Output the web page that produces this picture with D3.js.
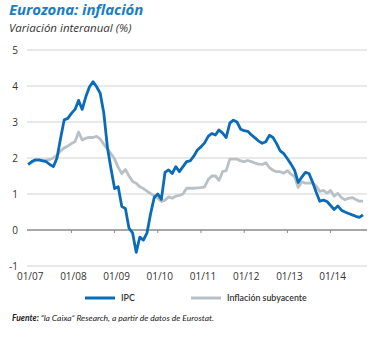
<!DOCTYPE html>
<html><head><meta charset="utf-8">
<script src="https://cdn.jsdelivr.net/npm/d3@7"></script>
<style>
html,body{margin:0;padding:0;background:#fff;}
svg{display:block;}
</style></head>
<body>
<script>
// Monthly data, Jan 2007 – Oct 2014
const startYear = 2007;
const ipc = [
 1.82,1.9,1.95,1.95,1.92,1.9,1.82,1.76,2.0,2.55,3.06,3.1,
 3.24,3.35,3.6,3.35,3.7,3.97,4.12,3.98,3.8,3.25,2.3,1.7,
 1.15,1.2,0.65,0.6,0.05,-0.08,-0.62,-0.2,-0.28,-0.08,0.45,0.9,
 1.0,0.85,1.6,1.67,1.57,1.76,1.62,1.76,1.9,1.92,2.05,2.22,
 2.31,2.42,2.6,2.68,2.64,2.78,2.69,2.57,2.97,3.05,3.0,2.8,
 2.76,2.74,2.64,2.56,2.47,2.41,2.45,2.63,2.57,2.4,2.2,2.12,
 1.98,1.83,1.66,1.32,1.47,1.6,1.57,1.33,1.05,0.8,0.83,0.79,
 0.68,0.57,0.67,0.55,0.5,0.46,0.42,0.38,0.35,0.42
];
const subyacente = [
 1.82,1.88,1.93,1.94,1.94,1.94,1.96,2.0,2.08,2.2,2.28,2.33,
 2.4,2.45,2.72,2.5,2.55,2.57,2.57,2.6,2.53,2.38,2.25,2.12,
 1.97,1.74,1.57,1.68,1.5,1.35,1.3,1.2,1.15,1.08,1.01,0.95,
 0.88,0.79,0.83,0.92,0.88,0.94,0.96,1.0,1.16,1.16,1.16,1.17,
 1.18,1.2,1.4,1.5,1.5,1.38,1.62,1.65,1.97,1.97,1.97,1.92,
 1.9,1.93,1.9,1.86,1.83,1.82,1.87,1.73,1.66,1.62,1.62,1.58,
 1.65,1.55,1.48,1.18,1.34,1.3,1.3,1.3,1.22,1.07,1.1,1.02,
 1.1,0.94,1.02,0.9,0.84,0.88,0.9,0.85,0.8,0.8
];
const yTicks = [-1,0,1,2,3,4,5];
const xTickLabels = ["01/07","01/08","01/09","01/10","01/11","01/12","01/13","01/14"];
const seriesNames = ["IPC","Inflación subyacente"];
const colors = ["#0a6cb8","#b9c1c7"];

const W = 377, H = 338;
const svg = d3.select("body").append("svg").attr("width",W).attr("height",H)
  .style("font-family","'Open Sans','Noto Sans',sans-serif");

const x = d3.scaleLinear().domain([0, 93]).range([28.2, 28.2 + 93*3.6]);
const y = d3.scaleLinear().domain([-1, 5]).range([266, 50]);
const gridX0 = 27, gridX1 = 367;

// Title
svg.append("text").attr("x",9).attr("y",15)
  .attr("fill","#1a7dc4").attr("font-size",15).attr("font-weight","bold").attr("font-style","italic")
  .attr("letter-spacing","-0.1")
  .text("Eurozona: inflación");
svg.append("text").attr("x",9).attr("y",32)
  .attr("fill","#333").attr("font-size",11.5).attr("font-style","italic")
  .text("Variación interanual (%)");

// Grid lines
svg.append("g").selectAll("line").data(yTicks.filter(d=>d!==0)).join("line")
  .attr("x1",gridX0).attr("x2",gridX1)
  .attr("y1",d=>y(d)).attr("y2",d=>y(d))
  .attr("stroke","#d3d3d3").attr("stroke-width",1);

// Y labels
svg.append("g").selectAll("text").data(yTicks).join("text")
  .attr("x",18).attr("y",d=>y(d)).attr("dy","0.35em")
  .attr("text-anchor","end").attr("font-size",10).attr("fill","#333")
  .text(d=>d);

// Zero line with ticks
svg.append("line").attr("x1",gridX0).attr("x2",gridX1)
  .attr("y1",y(0)).attr("y2",y(0)).attr("stroke","#8a8a8a").attr("stroke-width",1.3);
const xTickIdx = xTickLabels.map((d,i)=>i*12);
svg.append("g").selectAll("line").data(xTickIdx.slice(1)).join("line")
  .attr("x1",d=>x(d)).attr("x2",d=>x(d))
  .attr("y1",y(0)).attr("y2",y(0)+3)
  .attr("stroke","#8a8a8a").attr("stroke-width",1);

// X labels
svg.append("g").selectAll("text").data(xTickLabels).join("text")
  .attr("x",(d,i)=>x(i*12)+2).attr("y",280)
  .attr("text-anchor","middle").attr("font-size",10).attr("fill","#333")
  .text(d=>d);

// Lines
const line = d3.line().x((d,i)=>x(i)).y(d=>y(d)).curve(d3.curveLinear);
svg.append("path").datum(subyacente).attr("d",line)
  .attr("fill","none").attr("stroke",colors[1]).attr("stroke-width",2.8)
  .attr("stroke-linejoin","round");
svg.append("path").datum(ipc).attr("d",line)
  .attr("fill","none").attr("stroke",colors[0]).attr("stroke-width",2.8)
  .attr("stroke-linejoin","round");

// Legend
const legX = [85, 191];
const lg = svg.append("g").selectAll("g").data(seriesNames).join("g")
  .attr("transform",(d,i)=>`translate(${legX[i]},298)`);
lg.append("line").attr("x1",0).attr("x2",30).attr("y1",0).attr("y2",0)
  .attr("stroke",(d,i)=>colors[i]).attr("stroke-width",3);
lg.append("text").attr("x",36).attr("y",0).attr("dy","0.35em")
  .style("font-family","Lato, sans-serif")
  .attr("font-size",8.8).attr("font-weight",600).attr("fill","#333")
  .text(d=>d);

// Source
const src = svg.append("text").attr("x",12).attr("y",321)
  .style("font-family","Lato, sans-serif")
  .attr("font-size",8.5).attr("font-style","italic").attr("fill","#222");
src.append("tspan").attr("font-weight","bold").text("Fuente: ");
src.append("tspan").text("“la Caixa” Research, a partir de datos de Eurostat.");
</script>
</body></html>
